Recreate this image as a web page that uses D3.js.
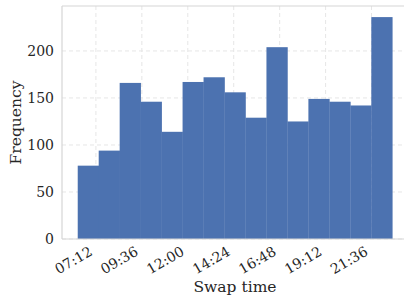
<!DOCTYPE html>
<html>
<head>
<meta charset="utf-8">
<script src="https://cdn.jsdelivr.net/npm/d3@7"></script>
<style>
  body { margin: 0; background: #fff; }
  text { font-family: "DejaVu Serif", serif; fill: #262626; }
</style>
</head>
<body>
<script>
// histogram of swap times, minutes after midnight
var binStart = 375, binEnd = 1361;
var counts = [78, 94, 166, 146, 114, 167, 172, 156, 129, 204, 125, 149, 146, 142, 236];
var tickMinutes = [432, 576, 720, 864, 1008, 1152, 1296];
var tickLabels = ["07:12", "09:36", "12:00", "14:24", "16:48", "19:12", "21:36"];
var yTicks = [0, 50, 100, 150, 200];

var w = 404, h = 304;
var pLeft = 62, pRight = 408, pTop = 6, pBottom = 239;

var svg = d3.select("body").append("svg")
    .attr("width", w)
    .attr("height", h);

var binW = (binEnd - binStart) / counts.length;
var pad = (binEnd - binStart) * 0.05;

var x = d3.scaleLinear()
    .domain([binStart - pad, binEnd + pad])
    .range([pLeft, pRight]);

var y = d3.scaleLinear()
    .domain([0, d3.max(counts) * 1.05])
    .range([pBottom, pTop]);

// grid
svg.append("g").selectAll("line")
    .data(tickMinutes).enter().append("line")
    .attr("x1", function(d){ return x(d); })
    .attr("x2", function(d){ return x(d); })
    .attr("y1", pTop).attr("y2", pBottom)
    .attr("stroke", "#e6e6e6").attr("stroke-dasharray", "4,3");

svg.append("g").selectAll("line")
    .data(yTicks).enter().append("line")
    .attr("x1", pLeft).attr("x2", pRight)
    .attr("y1", function(d){ return y(d); })
    .attr("y2", function(d){ return y(d); })
    .attr("stroke", "#e6e6e6").attr("stroke-dasharray", "4,3");

// bars
svg.append("g").selectAll("rect")
    .data(counts).enter().append("rect")
    .attr("x", function(d, i){ return x(binStart + i * binW); })
    .attr("width", function(d, i){ return x(binStart + (i + 1) * binW) - x(binStart + i * binW) + 0.3; })
    .attr("y", function(d){ return y(d); })
    .attr("height", function(d){ return pBottom - y(d); })
    .attr("fill", "#4c72b0");

// spines
svg.append("line").attr("x1", pLeft).attr("x2", pLeft).attr("y1", pTop).attr("y2", pBottom)
    .attr("stroke", "#d6d6d6").attr("stroke-width", 1.2);
svg.append("line").attr("x1", pLeft).attr("x2", pRight).attr("y1", pBottom).attr("y2", pBottom)
    .attr("stroke", "#d6d6d6").attr("stroke-width", 1.2);
svg.append("line").attr("x1", pLeft).attr("x2", pRight).attr("y1", pTop).attr("y2", pTop)
    .attr("stroke", "#d6d6d6").attr("stroke-width", 1.2);

// y tick labels
svg.append("g").selectAll("text")
    .data(yTicks).enter().append("text")
    .attr("x", pLeft - 8)
    .attr("y", function(d){ return y(d); })
    .attr("dy", "0.36em")
    .attr("text-anchor", "end")
    .attr("font-size", 14)
    .text(function(d){ return d; });

// x tick labels, rotated; box's top-right corner pinned near the tick
var xl = svg.append("g").selectAll("g")
    .data(tickMinutes).enter().append("g");
xl.append("text")
    .attr("transform", "rotate(-30)")
    .attr("text-anchor", "end")
    .attr("font-size", 14)
    .text(function(d, i){ return tickLabels[i]; });
xl.each(function(d){
    var b = this.getBoundingClientRect();
    d3.select(this)
        .attr("transform", "translate(" + (x(d) - 1 - b.right) + "," + (pBottom + 4 - b.top) + ")");
});

// axis labels
svg.append("text")
    .attr("x", (pLeft + pRight) / 2)
    .attr("y", 292)
    .attr("text-anchor", "middle")
    .attr("font-size", 15.5)
    .text("Swap time");

svg.append("text")
    .attr("transform", "translate(21," + ((pTop + pBottom) / 2) + ") rotate(-90)")
    .attr("text-anchor", "middle")
    .attr("font-size", 15.5)
    .text("Frequency");
</script>
</body>
</html>
